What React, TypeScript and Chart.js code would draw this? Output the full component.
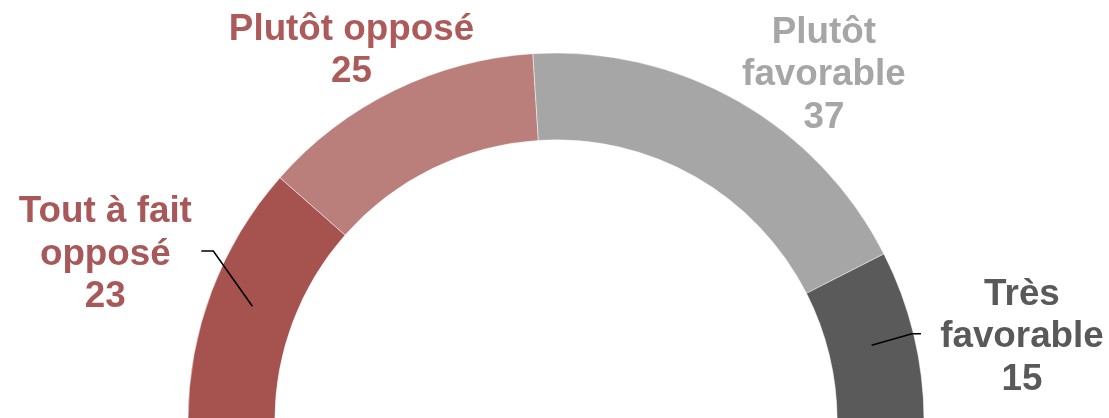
import React, { useEffect, useRef } from "react";
import { Chart, registerables } from "chart.js";

Chart.register(...registerables);

const categories = ["Tout à fait opposé", "Plutôt opposé", "Plutôt favorable", "Très favorable"];
const values = [23, 25, 37, 15];
const labelLines = [["Tout à fait", "opposé"], ["Plutôt opposé"], ["Plutôt", "favorable"], ["Très", "favorable"]];
const segmentColors = ["#A6524F", "#BA7E7B", "#A6A6A6", "#5A5A5A"];
const labelColors = ["#A9585A", "#AD5B5A", "#A6A6A6", "#595959"];

// label placement (polar, relative to each arc's mid-angle)
const labelRadiusFactor = [1.296, 1.125, 1.167, 1.282];
const labelAngleShiftDeg = [-1.6, -3.5, 8.9, 4.5];
const leaders: ({ elbow: [number, number]; end: [number, number] } | null)[] = [
  { elbow: [108, -14], end: [96, -14] },
  null,
  null,
  { elbow: [-110, -13.5], end: [-101, -13.5] },
];

const FONT = '"Liberation Sans", Arial, Helvetica, sans-serif';
const LINE_H = 42.5;

const labelPlugin = {
  id: "outerLabels",
  afterDraw(chart: any) {
    const ctx = chart.ctx;
    const meta = chart.getDatasetMeta(0);
    meta.data.forEach((arc: any, i: number) => {
      const p = arc.getProps(["x", "y", "startAngle", "endAngle", "outerRadius", "innerRadius"], true);
      const mid = (p.startAngle + p.endAngle) / 2;
      const a = mid + (labelAngleShiftDeg[i] * Math.PI) / 180;
      const r = p.outerRadius * labelRadiusFactor[i];
      const lx = p.x + r * Math.cos(a);
      const ly = p.y + r * Math.sin(a);
      const lines = [...labelLines[i], String(values[i])];
      ctx.save();
      ctx.font = `bold 36.8px ${FONT}`;
      ctx.fillStyle = labelColors[i];
      ctx.textAlign = "center";
      ctx.textBaseline = "alphabetic";
      const n = lines.length;
      lines.forEach((t, k) => {
        ctx.fillText(t, lx, ly + (k - (n - 1) / 2) * LINE_H);
      });
      const ld = leaders[i];
      if (ld) {
        const rm = (p.outerRadius + p.innerRadius) / 2;
        const sx = p.x + rm * Math.cos(mid);
        const sy = p.y + rm * Math.sin(mid);
        ctx.strokeStyle = "#000";
        ctx.lineWidth = 1.6;
        ctx.beginPath();
        ctx.moveTo(sx, sy);
        ctx.lineTo(lx + ld.elbow[0], ly + ld.elbow[1]);
        ctx.lineTo(lx + ld.end[0], ly + ld.end[1]);
        ctx.stroke();
      }
      ctx.restore();
    });
  },
};

export default function App() {
  const ref = useRef<HTMLCanvasElement | null>(null);
  useEffect(() => {
    if (!ref.current) return;
    const chart = new Chart(ref.current, {
      type: "doughnut",
      data: {
        labels: categories,
        datasets: [
          {
            data: values,
            backgroundColor: segmentColors,
            borderColor: "rgba(255,255,255,0.6)",
            borderWidth: 0.8,
          },
        ],
      },
      options: {
        responsive: false,
        animation: false,
        rotation: -90,
        circumference: 180,
        cutout: "76.4%",
        radius: 368,
        layout: { padding: { top: 56, bottom: 0, left: 3, right: 0 } },
        plugins: {
          legend: { display: false },
          tooltip: { enabled: false },
        },
      } as any,
      plugins: [labelPlugin],
    });
    return () => chart.destroy();
  }, []);
  return (
    <div style={{ position: "fixed", left: 0, top: 0, width: 1109, height: 418, background: "#fff" }}>
      <canvas ref={ref} width={1109} height={418} style={{ display: "block", width: 1109, height: 418 }} />
    </div>
  );
}
